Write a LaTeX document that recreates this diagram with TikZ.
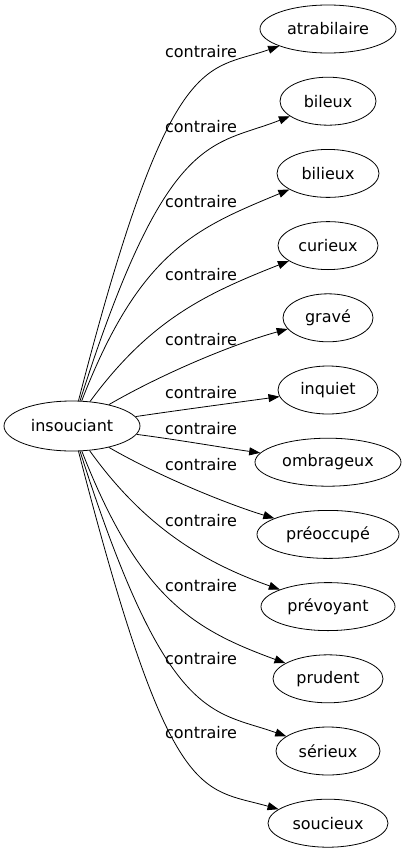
\documentclass[tikz,border=0pt]{standalone}
\usepackage{fontspec}
\setmainfont{DejaVu Sans}
\usepackage{tikz}
\usetikzlibrary{arrows.meta,shapes.geometric}

\begin{document}
\begin{tikzpicture}[x=1pt,y=-1pt,font=\fontsize{16}{19}\selectfont,
		word/.style={draw,ellipse,line width=0.8,inner sep=0,minimum height=48},
		rel/.style={-{Triangle[length=11,width=8]},line width=0.8},
		lbl/.style={inner sep=0}]
		\useasboundingbox (0,0) rectangle (406,851);
		\node[word,minimum width=136,minimum height=50] (ins) at (72,426) {insouciant};
		% one ellipse, one arrow and one label per contraire
		\foreach \nm/\txt/\w/\ly/\px/\py/\qx/\qy [count=\i from 0] in {
				atrabilaire/atrabilaire/136/52/170/45/205/72,
				bileux/bileux/96/127/167/128/212/147,
				bilieux/bilieux/102/202/140/250/197/228,
				curieux/curieux/100/275/150/320/205/294,
				grave/gravé/90/340/160/375/230/345,
				inquiet/inquiet/100/393/180/410/240/402,
				ombrageux/ombrageux/146/429/180/440/225/448,
				preoccupe/préoccupé/142/465/160/477/230/505,
				prevoyant/prévoyant/134/521/145/528/205/563,
				prudent/prudent/110/586/140/600/195/630,
				serieux/sérieux/104/659/167/724/212/710,
				soucieux/soucieux/120/733/170/807/200/787}{
			\node[word,minimum width=\w] (\nm) at (328,29+72.2*\i) {\txt};
			\draw[rel] (ins) .. controls (\px,\py) and (\qx,\qy) .. (\nm);
			\node[lbl] (lab\i) at (201,\ly) {contraire};
		}
	\end{tikzpicture}
\end{document}
